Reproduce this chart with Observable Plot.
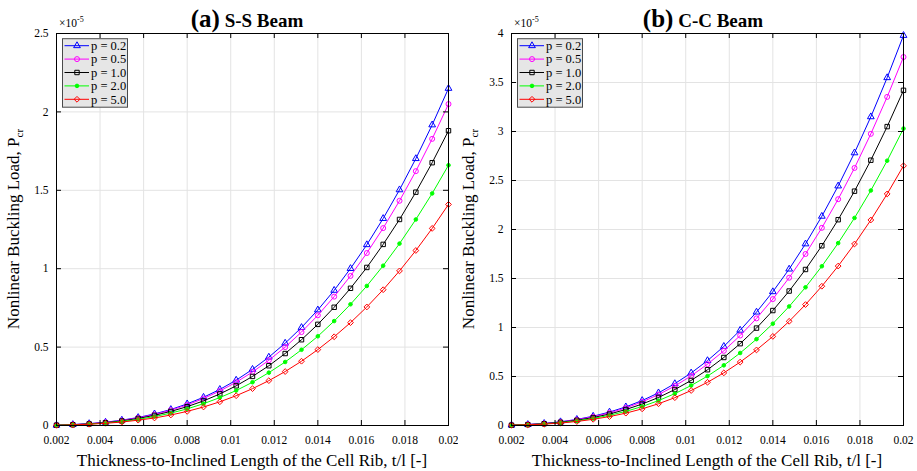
<!DOCTYPE html>
<html><head><meta charset="utf-8">
<script src="https://cdn.jsdelivr.net/npm/d3@7"></script>
<script src="https://cdn.jsdelivr.net/npm/@observablehq/plot@0.6"></script>
<style>
body{margin:0;background:#fff;}
#wrap{position:relative;width:917px;height:471px;overflow:hidden;}
#wrap svg{position:absolute;top:0;}
</style></head><body><div id="wrap"></div>
<script>
// t/l values (x)
const tl = [0.002,0.00275,0.0035,0.00425,0.005,0.00575,0.0065,0.00725,0.008,0.00875,0.0095,0.01025,0.011,0.01175,0.0125,0.01325,0.014,0.01475,0.0155,0.01625,0.017,0.01775,0.0185,0.01925,0.02];
const seriesLabels = ["p = 0.2","p = 0.5","p = 1.0","p = 2.0","p = 5.0"];

// (a) S-S Beam, P_cr in units of 1e-5
const ssP02 = [0.002,0.006,0.012,0.021,0.034,0.051,0.074,0.102,0.138,0.180,0.230,0.289,0.358,0.436,0.525,0.625,0.737,0.862,1.001,1.153,1.320,1.503,1.702,1.917,2.150];
const ssP05 = [0.002,0.005,0.011,0.020,0.032,0.049,0.070,0.098,0.131,0.172,0.220,0.276,0.341,0.416,0.500,0.596,0.703,0.822,0.954,1.100,1.259,1.433,1.622,1.828,2.050];
const ssP10 = [0.002,0.005,0.010,0.018,0.029,0.045,0.065,0.090,0.120,0.157,0.201,0.253,0.313,0.381,0.459,0.547,0.645,0.754,0.875,1.008,1.155,1.314,1.488,1.676,1.880];
const ssP20 = [0.002,0.004,0.009,0.016,0.026,0.039,0.057,0.079,0.106,0.139,0.178,0.223,0.276,0.337,0.405,0.483,0.569,0.666,0.773,0.890,1.019,1.160,1.314,1.480,1.660];
const ssP50 = [0.001,0.004,0.008,0.014,0.022,0.034,0.048,0.067,0.090,0.118,0.151,0.190,0.235,0.286,0.344,0.410,0.484,0.566,0.656,0.756,0.866,0.986,1.116,1.257,1.410];

// (b) C-C Beam
const ccP02 = [0.004,0.010,0.021,0.038,0.062,0.095,0.137,0.190,0.255,0.333,0.427,0.536,0.662,0.807,0.972,1.157,1.365,1.596,1.853,2.135,2.444,2.782,3.150,3.549,3.980];
const ccP05 = [0.004,0.010,0.020,0.036,0.059,0.089,0.129,0.179,0.241,0.315,0.403,0.506,0.626,0.762,0.918,1.093,1.290,1.508,1.750,2.017,2.309,2.628,2.976,3.353,3.760];
const ccP10 = [0.003,0.009,0.018,0.033,0.053,0.081,0.117,0.163,0.219,0.286,0.367,0.460,0.569,0.694,0.835,0.994,1.173,1.372,1.592,1.834,2.100,2.391,2.707,3.050,3.420];
const ccP20 = [0.003,0.008,0.016,0.029,0.047,0.072,0.104,0.144,0.194,0.254,0.325,0.408,0.504,0.614,0.740,0.881,1.039,1.215,1.410,1.625,1.861,2.118,2.398,2.702,3.030];
const ccP50 = [0.003,0.007,0.014,0.025,0.041,0.063,0.091,0.126,0.170,0.222,0.284,0.357,0.441,0.537,0.647,0.771,0.909,1.063,1.234,1.421,1.627,1.852,2.097,2.363,2.650];

const xTicks = [0.002,0.004,0.006,0.008,0.01,0.012,0.014,0.016,0.018,0.02];
const xTickLabels = ["0.002","0.004","0.006","0.008","0.01","0.012","0.014","0.016","0.018","0.02"];
const ssYTicks = [0,0.5,1,1.5,2,2.5];
const ssYTickLabels = ["0","0.5","1","1.5","2","2.5"];
const ccYTicks = [0,0.5,1,1.5,2,2.5,3,3.5,4];
const ccYTickLabels = ["0","0.5","1","1.5","2","2.5","3","3.5","4"];

const colors = ["#0000ff","#ff00ff","#000000","#00ff00","#ff0000"];
const symbols = ["triangle","circle","square","circle","diamond2"];
const symbolTypes = [d3.symbolTriangle, d3.symbolCircle, d3.symbolSquare, d3.symbolCircle, d3.symbolDiamond2];
const fills = ["none","none","none","#00ff00","none"];
const radii = [2.5,2.5,2.5,1.8,2.6];

const FONT = "Liberation Serif, Times New Roman, serif";

function panel(opts) {
  const {left, width, ml, mr, series, yMax, yTicks, yTickLabels, letter, name, titleDx} = opts;
  const H = 471, mt = 33, mb = 46;
  const pw = width - ml - mr, ph = H - mt - mb;
  const marks = [
    Plot.gridX(xTicks, {stroke:"#e3e3e3", strokeOpacity:1}),
    Plot.gridY(yTicks, {stroke:"#e3e3e3", strokeOpacity:1})
  ];
  series.forEach((vals, i) => {
    const data = tl.map((x, j) => ({x, y: vals[j]}));
    marks.push(Plot.line(data, {x:"x", y:"y", stroke: colors[i], strokeWidth: 1}));
    marks.push(Plot.dot(data, {x:"x", y:"y", stroke: colors[i], fill: fills[i], symbol: symbols[i], r: radii[i], strokeWidth: 1}));
  });
  marks.push(
    Plot.ruleX(xTicks, {x: d => d, insetTop: ph - 5, stroke:"black"}),
    Plot.ruleX(xTicks, {x: d => d, insetBottom: ph - 5, stroke:"black"}),
    Plot.ruleY(yTicks, {y: d => d, insetRight: pw - 5, stroke:"black"}),
    Plot.ruleY(yTicks, {y: d => d, insetLeft: pw - 5, stroke:"black"}),
    Plot.frame({stroke:"black", strokeWidth:1}),
    Plot.axisX(xTicks, {tickSize:0, tickPadding:10, tickFormat: d => xTickLabels[xTicks.indexOf(d)], label:null, fontSize: 11.5, fontFamily: FONT}),
    Plot.axisY(yTicks, {tickSize:0, tickPadding:8, tickFormat: d => yTickLabels[yTicks.indexOf(d)], label:null, fontSize: 11.5, fontFamily: FONT})
  );
  const svg = Plot.plot({
    width, height: H,
    marginLeft: ml, marginRight: mr, marginTop: mt, marginBottom: mb,
    x: {domain:[0.002,0.02]},
    y: {domain:[0,yMax]},
    style: {fontFamily: FONT, fontSize:"11.5px", color:"black", background:"transparent"},
    marks
  });
  svg.style.left = left + "px";
  const s = d3.select(svg);
  const cx = ml + pw/2;
  // title
  const t = s.append("text").attr("x", cx + titleDx).attr("y", 27).attr("text-anchor","middle")
    .attr("font-family", FONT).attr("font-weight","bold").attr("fill","black");
  t.append("tspan").attr("font-size", 25).text(letter);
  t.append("tspan").attr("font-size", 19).text(" " + name);
  // exponent label
  const e = s.append("text").attr("x", ml + 3).attr("y", 26.5).attr("text-anchor","start")
    .attr("font-family", FONT).attr("font-size", 11.5).attr("fill","black");
  e.append("tspan").text("×10");
  e.append("tspan").attr("font-size", 8).attr("dy", -5).text("-5");
  // x label
  s.append("text").attr("x", cx).attr("y", 466).attr("text-anchor","middle")
    .attr("font-family", FONT).attr("font-size", 17).attr("fill","black")
    .text("Thickness-to-Inclined Length of the Cell Rib, t/l [-]");
  // y label
  const yl = s.append("text").attr("transform", `translate(${ml - 37.5},${mt + ph/2}) rotate(-90)`)
    .attr("text-anchor","middle").attr("font-family", FONT).attr("font-size", 17).attr("fill","black");
  yl.append("tspan").text("Nonlinear Buckling Load, P");
  yl.append("tspan").attr("font-size", 11).attr("dy", 4).text("cr");
  // legend
  const lx = ml + 6.5, ly = mt + 5.7;
  const g = s.append("g").attr("text-anchor","start");
  g.append("rect").attr("x", lx).attr("y", ly).attr("width", 65).attr("height", 68.5)
    .attr("fill","#e6e6e6").attr("stroke","#4a4a4a").attr("stroke-width",1);
  seriesLabels.forEach((lab, i) => {
    const ry = ly + 7 + 13.4 * i;
    g.append("line").attr("x1", lx + 2).attr("x2", lx + 26.5).attr("y1", ry).attr("y2", ry)
      .attr("stroke", colors[i]).attr("stroke-width", 1);
    g.append("path").attr("d", d3.symbol().type(symbolTypes[i]).size(Math.PI * radii[i] * radii[i])())
      .attr("transform", `translate(${lx + 14.5},${ry})`)
      .attr("stroke", colors[i]).attr("fill", fills[i]).attr("stroke-width", 1);
    g.append("text").attr("x", lx + 28.5).attr("y", ry).attr("dy","0.35em").attr("text-anchor","start")
      .attr("font-family", FONT).attr("font-size", 12.5).attr("fill","black").text(lab);
  });
  document.getElementById("wrap").appendChild(svg);
}

panel({left:0, width:458, ml:56, mr:10, series:[ssP02,ssP05,ssP10,ssP20,ssP50], yMax:2.5,
  yTicks:ssYTicks, yTickLabels:ssYTickLabels, letter:"(a)", name:"S-S Beam", titleDx:-5});
panel({left:458, width:459, ml:53, mr:14, series:[ccP02,ccP05,ccP10,ccP20,ccP50], yMax:4,
  yTicks:ccYTicks, yTickLabels:ccYTickLabels, letter:"(b)", name:"C-C Beam", titleDx:-4});
</script></body></html>
